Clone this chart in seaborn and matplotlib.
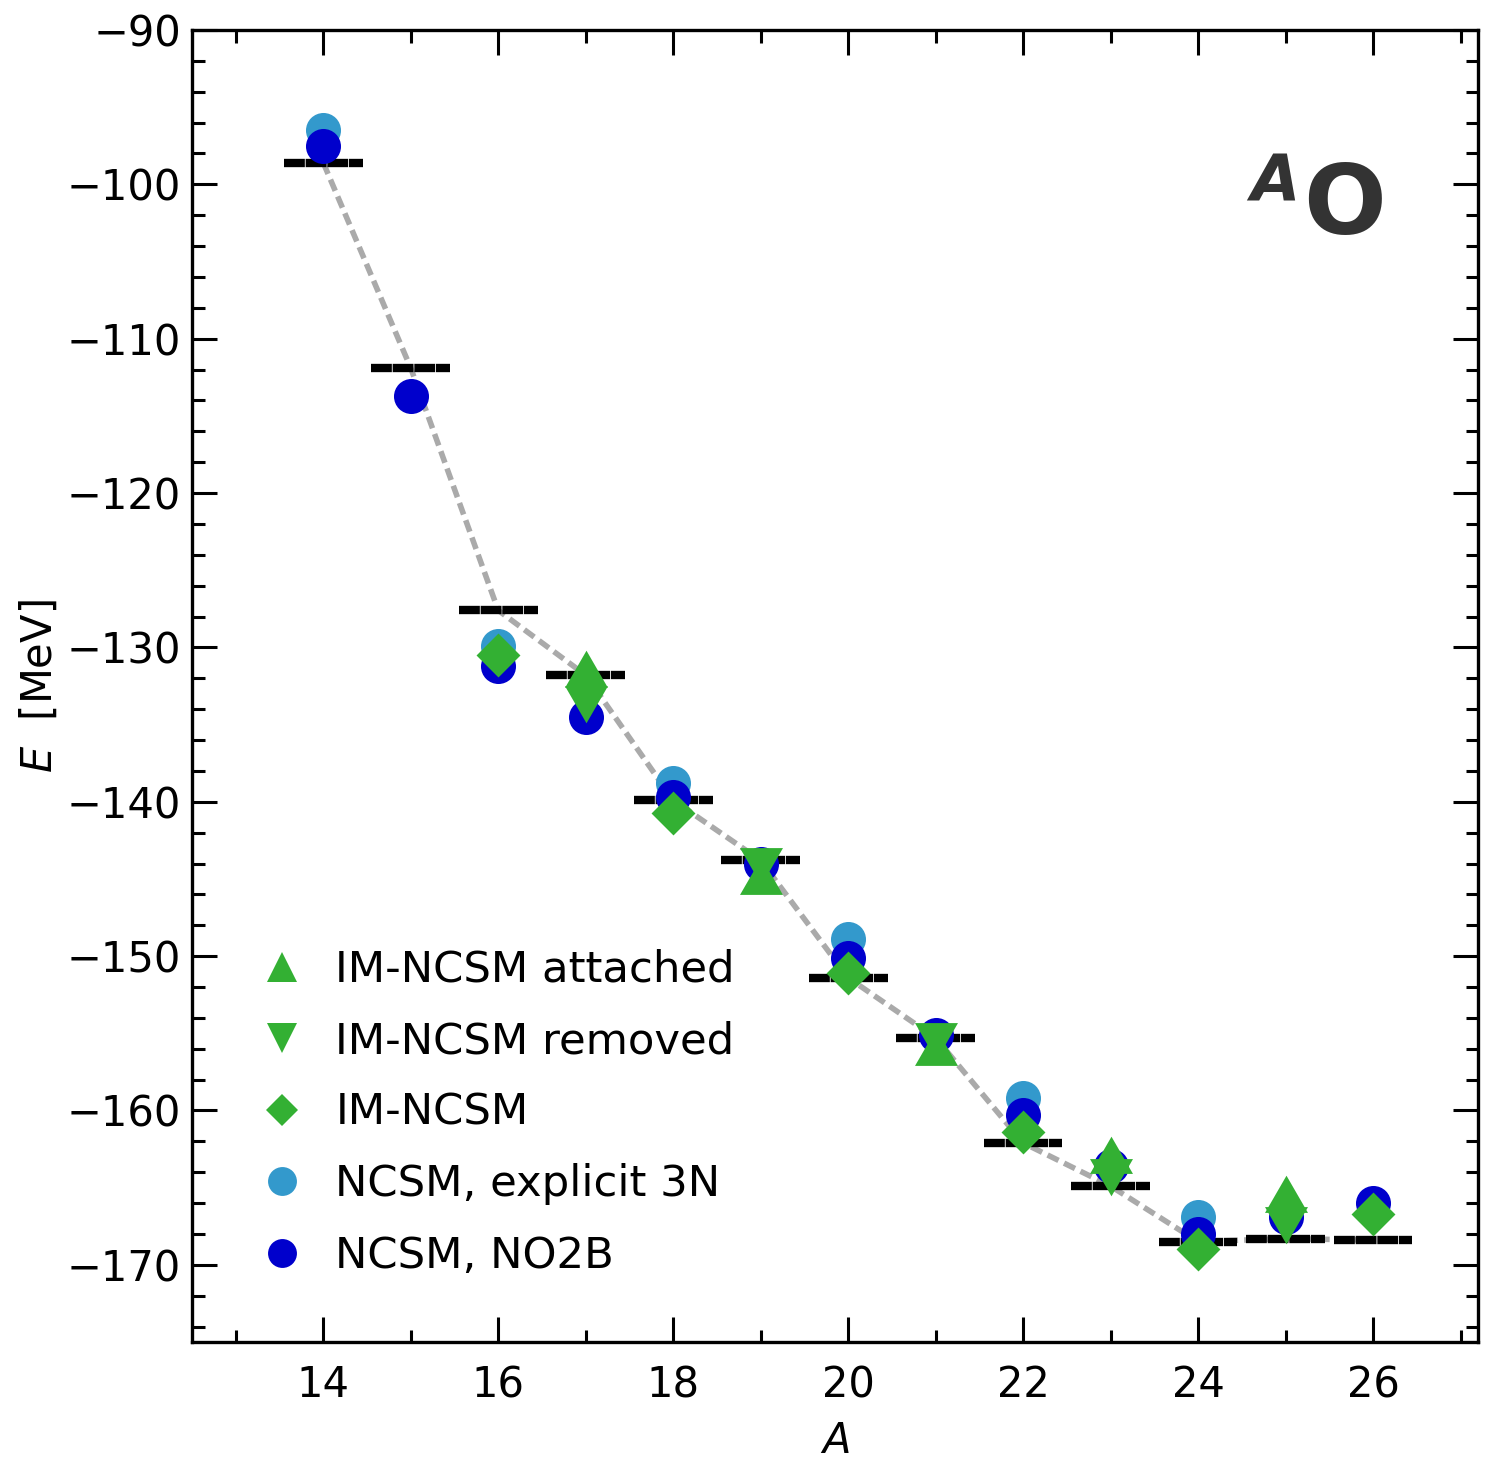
import numpy as np
import pandas as pd
import matplotlib
matplotlib.use("Agg")
import matplotlib.pyplot as plt
from matplotlib.lines import Line2D
import seaborn as sns

# experiment (black bars + grey dashed guide)
A_exp = [14, 15, 16, 17, 18, 19, 20, 21, 22, 23, 24, 25, 26]
E_exp = [-98.6, -111.9, -127.6, -131.8, -139.9, -143.8, -151.4,
         -155.3, -162.1, -164.9, -168.5, -168.3, -168.4]

# NCSM, explicit 3N
A_3n = [14, 16, 18, 20, 22, 24]
E_3n = [-96.5, -129.9, -138.8, -148.9, -159.2, -166.9]

# NCSM, NO2B
A_no2b = [14, 15, 16, 17, 18, 19, 20, 21, 22, 23, 24, 25, 26]
E_no2b = [-97.5, -113.7, -131.2, -134.5, -139.7, -144.0, -150.1,
          -155.1, -160.3, -163.6, -168.0, -166.9, -166.0]

# IM-NCSM (even A)
A_im = [16, 18, 20, 22, 24, 26]
E_im = [-130.5, -140.7, -151.1, -161.4, -169.0, -166.7]

# IM-NCSM attached / removed (odd A)
A_att = [17, 19, 21, 23, 25]
E_att = [-131.8, -145.2, -156.3, -163.3, -165.8]
A_rem = [17, 19, 21, 23, 25]
E_rem = [-133.3, -143.8, -155.1, -163.9, -167.0]

c_light = "#3399cc"
c_dark = "#0000cc"
c_green = "#33b033"

sns.set_style("ticks")
plt.rcParams["font.family"] = ["DejaVu Sans"]
plt.rcParams["mathtext.fontset"] = "dejavusans"
plt.rcParams.update({
    "text.color": "black", "axes.labelcolor": "black",
    "xtick.color": "black", "ytick.color": "black",
    "xtick.direction": "in", "ytick.direction": "in",
    "xtick.top": True, "ytick.right": True,
    "xtick.major.size": 9, "ytick.major.size": 9,
    "xtick.minor.size": 4.5, "ytick.minor.size": 4.5,
    "xtick.major.width": 1.1, "ytick.major.width": 1.1,
    "xtick.minor.width": 1.1, "ytick.minor.width": 1.1,
    "axes.linewidth": 1.2, "axes.edgecolor": "black",
})

fig = plt.figure(figsize=(7.455, 7.34), dpi=200)
ax = fig.add_axes([0.1288, 0.0858, 0.8625, 0.8938])

df_exp = pd.DataFrame({"A": A_exp, "E": E_exp})
sns.lineplot(data=df_exp, x="A", y="E", ax=ax, color="#aaaaaa", lw=2.0,
             linestyle=(0, (2.2, 1.1)), sort=False, zorder=1)
ax.hlines(df_exp["E"], df_exp["A"] - 0.45, df_exp["A"] + 0.45, colors="black",
          lw=3.0, linestyles=[(0, (2.5, 0.1))], zorder=2)

sns.scatterplot(x=A_3n, y=E_3n, ax=ax, color=c_light, marker="o", s=159,
                linewidth=0, zorder=3)
sns.scatterplot(x=A_no2b, y=E_no2b, ax=ax, color=c_dark, marker="o", s=159,
                linewidth=0, zorder=4)
sns.scatterplot(x=A_im, y=E_im, ax=ax, color=c_green, marker="D", s=125,
                linewidth=0, zorder=5)
sns.scatterplot(x=A_att, y=E_att, ax=ax, color=c_green, marker=(3, 0, 0), s=319,
                linewidth=0, zorder=5)
sns.scatterplot(x=A_rem, y=E_rem, ax=ax, color=c_green, marker=(3, 0, 180), s=319,
                linewidth=0, zorder=5)

ax.set_xlim(12.5, 27.2)
ax.set_ylim(-175, -90)
ax.set_xticks(np.arange(14, 27, 2))
ax.set_xticks(np.arange(13, 28, 1), minor=True)
ax.set_yticks(np.arange(-170, -89, 10))
ax.set_yticks(np.arange(-174, -89, 2), minor=True)
ax.tick_params(labelsize=15)
ax.tick_params(axis="y", pad=4)
ax.tick_params(axis="x", pad=8)
ax.set_xlabel("$A$", fontsize=15, labelpad=5)
ax.set_ylabel("$E$  [MeV]", fontsize=15, labelpad=2)

ax.text(0.823, 0.869, "A", transform=ax.transAxes, fontsize=23,
        fontweight="bold", fontstyle="italic", color="#333333", ha="left", va="baseline")
ax.text(0.864, 0.8445, "O", transform=ax.transAxes, fontsize=35,
        fontweight="bold", color="#333333", ha="left", va="baseline")

handles = [
    Line2D([], [], ls="none", marker="^", ms=10.8, color=c_green, mew=0),
    Line2D([], [], ls="none", marker="v", ms=10.8, color=c_green, mew=0),
    Line2D([], [], ls="none", marker="D", ms=8.4, color=c_green, mew=0),
    Line2D([], [], ls="none", marker="o", ms=10.4, color=c_light, mew=0),
    Line2D([], [], ls="none", marker="o", ms=10.4, color=c_dark, mew=0),
]
labels = ["IM-NCSM attached", "IM-NCSM removed", "IM-NCSM",
          "NCSM, explicit 3N", "NCSM, NO2B"]
ax.legend(handles, labels, loc="lower left", bbox_to_anchor=(0.013, 0.02),
          frameon=False, fontsize=15.6, handlelength=1.6, handletextpad=0.42,
          labelspacing=0.68)

fig.savefig("out.png", dpi=200)
